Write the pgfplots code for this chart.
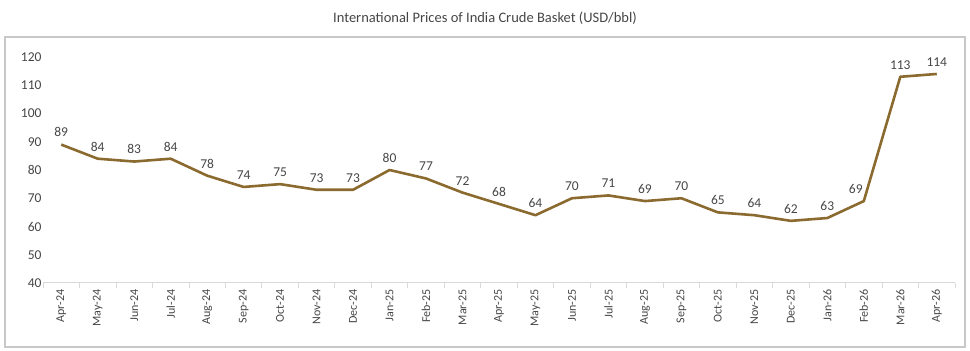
\documentclass[border=0pt]{standalone}
\usepackage{pgfplots}
\pgfplotsset{compat=1.18}
\usepackage{fontspec}
\setmainfont{Carlito}
\definecolor{crude}{RGB}{139,106,48}
\definecolor{txt}{RGB}{70,70,70}
\definecolor{frame}{RGB}{200,200,200}
\definecolor{axisgray}{RGB}{217,217,217}

\pgfplotstableread{
idx price
0 89
1 84
2 83
3 84
4 78
5 74
6 75
7 73
8 73
9 80
10 77
11 72
12 68
13 64
14 70
15 71
16 69
17 70
18 65
19 64
20 62
21 63
22 69
23 113
24 114
}\basket

\begin{document}
\begin{tikzpicture}[x=1pt,y=1pt]
\useasboundingbox (0,0) rectangle (970,351);
\draw[frame,line width=1.2pt] (5,4) rectangle (965,314);
\node[txt,font=\fontsize{14.5}{16}\selectfont] at (485,333) {International Prices of India Crude Basket (USD/bbl)};
\begin{axis}[
  at={(43pt,68pt)}, anchor=south west,
  scale only axis, width=912pt, height=226pt,
  xmin=-0.5, xmax=24.5, ymin=40, ymax=120,
  ytick={40,50,...,120},
  xtick={0,...,24},
  xticklabels={Apr-24,May-24,Jun-24,Jul-24,Aug-24,Sep-24,Oct-24,Nov-24,Dec-24,Jan-25,Feb-25,Mar-25,Apr-25,May-25,Jun-25,Jul-25,Aug-25,Sep-25,Oct-25,Nov-25,Dec-25,Jan-26,Feb-26,Mar-26,Apr-26},
  x tick label style={rotate=90, anchor=east, font=\fontsize{12}{14}\selectfont, text=txt},
  y tick label style={font=\fontsize{13.5}{15}\selectfont, text=txt},
  /pgf/number format/assume math mode=true,
  minor xtick={-0.5,0.5,...,24.5},
  tick align=outside,
  major tick length=0pt,
  minor tick length=5pt,
  minor x tick style={axisgray, line width=0.8pt},
  ytick style={draw=none},
  axis line style={draw=none},
  axis x line*=bottom,
  axis y line*=left,
  clip=false,
  xticklabel shift=3pt,
  yticklabel style={xshift=2pt},
  nodes near coords style={font=\fontsize{13.5}{15}\selectfont, text=txt, anchor=south, yshift=4pt},
]
\draw[axisgray, line width=1pt] (axis cs:-0.5,40) -- (axis cs:24.5,40);
% price line
\addplot[crude, line width=2.6pt, line join=round, mark=none] table[x=idx,y=price] {\basket};
% value labels above each month
\addplot[draw=none, mark=none, nodes near coords,
  x filter/.expression={x==22 ? nan : x}] table[x=idx,y=price] {\basket};
% Feb-26 label nudged left off the steep rise
\addplot[draw=none, mark=none, nodes near coords,
  nodes near coords style={xshift=-8pt},
  x filter/.expression={x==22 ? x : nan}] table[x=idx,y=price] {\basket};
\end{axis}
\end{tikzpicture}
\end{document}
